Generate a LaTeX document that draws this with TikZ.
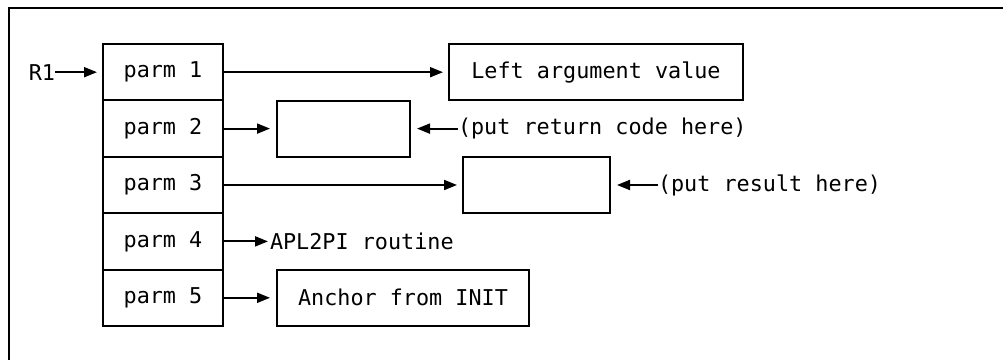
\documentclass[tikz,border=0pt]{standalone}
\usepackage{fontspec}
\setmonofont{DejaVu Sans Mono}
\usepackage{tikz}
\usetikzlibrary{arrows.meta, positioning}
\tikzset{
  parmbox/.style={
    rectangle, draw, line width=1.1pt, outer sep=0pt, inner sep=0pt,
    minimum width=2.4cm, minimum height=1.128cm
  },
  valbox/.style={
    rectangle, draw, line width=1.1pt, outer sep=0pt, inner sep=0pt,
    minimum height=1.12cm
  },
  note/.style={inner sep=0pt, outer sep=0pt},
  ptr/.style={-{Triangle[length=0.26cm, width=0.2cm]}, line width=1.1pt},
}

\begin{document}
\begin{tikzpicture}[font=\ttfamily\fontsize{12.4}{15}\selectfont]

  \useasboundingbox (0,0) rectangle (20.06,-7.2);

  % --- Rahmen (nur oben und links) ---
  \coordinate (corner) at (0.18,-0.16);
  \draw[line width=1.1pt] (0.18,-7.2) -- (corner) -- (20.06,-0.16);

  % --- Parameterliste ---
  \node[parmbox] (p1) at (3.26,-1.444) {parm 1};
  \node[parmbox, below=0pt of p1] (p2) {parm 2};
  \node[parmbox, below=0pt of p2] (p3) {parm 3};
  \node[parmbox, below=0pt of p3] (p4) {parm 4};
  \node[parmbox, below=0pt of p4] (p5) {parm 5};

  \node[note, left=0.96cm of p1] (r1) {R1};

  % --- Zielfelder ---
  \node[valbox, minimum width=5.88cm, right=4.52cm of p1] (larg)
    {Left argument value};
  \node[valbox, minimum width=2.66cm, right=1.08cm of p2] (rc) {};
  \node[valbox, minimum width=2.94cm, right=4.80cm of p3] (res) {};
  \node[note, right=0.94cm of p4] (apl) {APL2PI routine};
  \node[valbox, minimum width=5.04cm, right=1.08cm of p5] (anchor)
    {Anchor from INIT};

  % --- Hinweise ---
  \node[note, right=0.96cm of rc] (rcnote) {(put return code here)};
  \node[note, right=0.96cm of res] (resnote) {(put result here)};

  % --- Zeiger ---
  \draw[ptr, shorten >=0.12cm] (r1) -- (p1);
  \draw[ptr, shorten >=0.12cm] (p1) -- (larg);
  \draw[ptr, shorten >=0.14cm] (p2) -- (rc);
  \draw[ptr, shorten >=0.12cm] (p3) -- (res);
  \draw[ptr, shorten >=0.04cm] (p4) -- (apl);
  \draw[ptr, shorten >=0.14cm] (p5) -- (anchor);
  \draw[ptr, shorten >=0.14cm] (rcnote) -- (rc);
  \draw[ptr, shorten >=0.14cm] (resnote) -- (res);

\end{tikzpicture}
\end{document}
